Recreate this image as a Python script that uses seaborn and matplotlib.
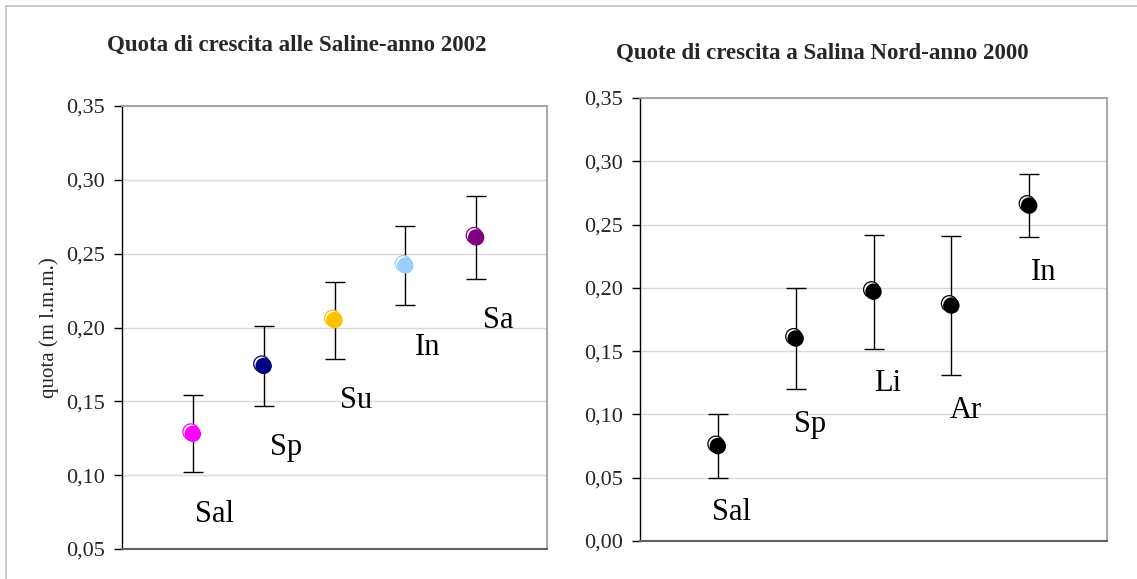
import numpy as np
import pandas as pd
import matplotlib
matplotlib.use("Agg")
import matplotlib.pyplot as plt
import matplotlib.transforms as mtransforms
from matplotlib.lines import Line2D
import seaborn as sns

# ---- data ----
left_cats = ["Sal", "Sp", "Su", "In", "Sa"]
left_vals = [0.128, 0.174, 0.205, 0.242, 0.261]
left_err = [0.026, 0.027, 0.026, 0.027, 0.028]
left_colors = ["#FF00FF", "#000080", "#FFC000", "#99CCFF", "#800080"]

right_cats = ["Sal", "Sp", "Li", "Ar", "In"]
right_vals = [0.075, 0.160, 0.197, 0.186, 0.265]
right_err = [0.025, 0.040, 0.045, 0.055, 0.025]

left_title = "Quota di crescita alle Saline-anno 2002"
right_title = "Quote di crescita a Salina Nord-anno 2000"
left_yticks = [0.05, 0.10, 0.15, 0.20, 0.25, 0.30, 0.35]
right_yticks = [0.00, 0.05, 0.10, 0.15, 0.20, 0.25, 0.30, 0.35]

sns.set_theme(style="white")
plt.rcParams["font.family"] = ["Liberation Serif", "DejaVu Serif"]

W, H = 1137, 579
fig = plt.figure(figsize=(W / 100, H / 100), dpi=100)


def px_axes(x0, y0, x1, y1):
    return fig.add_axes([x0 / W, 1 - y1 / H, (x1 - x0) / W, (y1 - y0) / H])


def draw_panel(ax, cats, vals, errs, colors, yticks, label_off):
    df = pd.DataFrame({"cat": cats, "val": vals, "err": errs, "pos": np.arange(len(cats))})
    ax.errorbar(df["pos"], df["val"], yerr=df["err"], fmt="none", ecolor="black",
                elinewidth=1.0, capsize=7, capthick=1.0, zorder=3)
    # shadow ring offset up-left
    shadow = mtransforms.offset_copy(ax.transData, fig=fig, x=-2, y=2, units="dots")
    ax.scatter(df["pos"], df["val"], s=130, facecolors="white", edgecolors=colors,
               linewidths=0.9, transform=shadow, zorder=4)
    sns.scatterplot(data=df, x="pos", y="val", hue="cat", palette=dict(zip(cats, colors)),
                    s=140, edgecolor="none", legend=False, ax=ax, zorder=5)
    for _, r in df.iterrows():
        ax.annotate(r["cat"], (r["pos"], r["val"] - r["err"]), xytext=label_off,
                    textcoords="offset pixels", ha="center", va="center",
                    fontsize=22, color="black")
    ax.set_xlim(-1, len(cats))
    ax.set_ylim(yticks[0], yticks[-1])
    ax.set_yticks(yticks)
    ax.set_yticklabels([f"{t:.2f}".replace(".", ",") for t in yticks], fontsize=16)
    ax.set_xticks([])
    ax.set_xlabel("")
    ax.set_ylabel("")
    ax.grid(axis="y", color="#d9d9d9", linewidth=1.0)
    ax.set_axisbelow(True)
    ax.tick_params(axis="y", left=True, length=5.5, width=1, color="black", pad=7,
                   direction="out")
    ax.spines["left"].set_color("black")
    ax.spines["bottom"].set_color("#606060")
    ax.spines["bottom"].set_linewidth(1.5)
    ax.spines["top"].set_color("#a0a0a0")
    ax.spines["right"].set_color("#a0a0a0")
    ax.spines["left"].set_linewidth(1.0)
    ax.spines["top"].set_linewidth(1.3)
    ax.spines["right"].set_linewidth(1.3)


axL = px_axes(122, 106, 547, 549)
draw_panel(axL, left_cats, left_vals, left_err, left_colors, left_yticks, (22, -42))
axL.set_ylabel("quota (m l.m.m.)", fontsize=15, labelpad=5)

axR = px_axes(640, 98, 1107, 541)
draw_panel(axR, right_cats, right_vals, right_err, ["black"] * 5, right_yticks, (14, -35))

fig.text(297 / W, 1 - 45 / H, left_title, ha="center", va="center",
         fontsize=16.5, fontweight="bold")
fig.text(822 / W, 1 - 53 / H, right_title, ha="center", va="center",
         fontsize=16.5, fontweight="bold")

# page frame lines
fig.add_artist(Line2D([6 / W, 1], [1 - 6 / H, 1 - 6 / H], transform=fig.transFigure,
                      color="#c0c0c0", linewidth=1.2))
fig.add_artist(Line2D([6 / W, 6 / W], [0, 1 - 6 / H], transform=fig.transFigure,
                      color="#c0c0c0", linewidth=1.2))

fig.savefig("out.png", dpi=100, facecolor="white")
